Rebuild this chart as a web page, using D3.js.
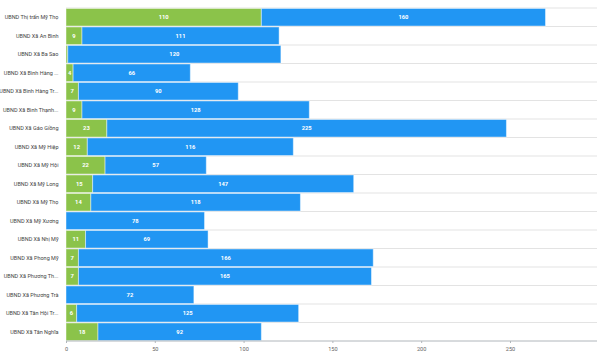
<!DOCTYPE html>
<html><head><meta charset="utf-8">
<script src="https://cdn.jsdelivr.net/npm/d3@7"></script>
<style>html,body{margin:0;padding:0;background:#fff;}svg{display:block;font-family:Roboto,"Noto Sans",sans-serif;}</style>
</head><body><svg id="c" width="600" height="356"></svg>
<script>
const categories = ["UBND Thị trấn Mỹ Thọ","UBND Xã An Bình","UBND Xã Ba Sao","UBND Xã Bình Hàng ...","UBND Xã Bình Hàng Tr...","UBND Xã Bình Thạnh...","UBND Xã Gáo Giồng","UBND Xã Mỹ Hiệp","UBND Xã Mỹ Hội","UBND Xã Mỹ Long","UBND Xã Mỹ Thọ","UBND Xã Mỹ Xương","UBND Xã Nhị Mỹ","UBND Xã Phong Mỹ","UBND Xã Phương Th...","UBND Xã Phương Trà","UBND Xã Tân Hội Tr...","UBND Xã Tân Nghĩa"];
const greenValues = [110,9,1,4,7,9,23,12,22,15,14,0,11,7,7,0,6,18];
const blueValues = [160,111,120,66,90,128,225,116,57,147,118,78,69,166,165,72,125,92];
const xTicks = [0,50,100,150,200,250];
const xMax = 299;
const colors = ["#8BC34A","#2196F3"];

(function(){
const svg = d3.select("#c");
const mLeft = 66, mRight = 597, mTop = 8, mBottom = 341;
const x = d3.scaleLinear().domain([0, xMax]).range([mLeft, mRight]);
const y = d3.scaleBand().domain(categories).range([mTop, mBottom]).paddingInner(0.05).paddingOuter(0.025);
const step = y.step();

const gridYs = d3.range(categories.length).map(i => mTop + i * step);
svg.append("g").selectAll("line").data(gridYs).join("line")
  .attr("x1", mLeft).attr("x2", mRight).attr("y1", d => d).attr("y2", d => d)
  .attr("stroke", "#e3e3e3").attr("stroke-width", 1);

const rows = categories.map((c, i) => ({cat: c, segs: [
  {x0: 0, x1: greenValues[i], v: greenValues[i], color: colors[0]},
  {x0: greenValues[i], x1: greenValues[i] + blueValues[i], v: blueValues[i], color: colors[1]}
]}));

const g = svg.append("g");
rows.forEach(r => {
  r.segs.forEach(s => {
    if (s.v <= 0) return;
    g.append("rect")
      .attr("x", x(s.x0)).attr("y", y(r.cat))
      .attr("width", x(s.x1) - x(s.x0)).attr("height", y.bandwidth())
      .attr("fill", s.color).attr("stroke", "#fff").attr("stroke-opacity", 0.45).attr("stroke-width", 1);
    if (x(s.x1) - x(s.x0) > 5) {
      g.append("text")
        .attr("x", (x(s.x0) + x(s.x1)) / 2).attr("y", y(r.cat) + y.bandwidth() / 2)
        .attr("dy", "0.35em").attr("text-anchor", "middle")
        .attr("fill", "#fff").attr("font-size", 5.8).attr("font-weight", "bold")
        .text(s.v);
    }
  });
});

svg.append("g").selectAll("text").data(categories).join("text")
  .attr("x", 58.5).attr("y", d => y(d) + y.bandwidth() / 2).attr("dy", "0.35em")
  .attr("text-anchor", "end").attr("fill", "#444").attr("font-size", 5.5)
  .text(d => d);

const ax = svg.append("g").attr("transform", `translate(0,${mBottom})`)
  .call(d3.axisBottom(x).tickValues(xTicks).tickSize(2).tickPadding(4));
ax.select(".domain").attr("stroke", "#b0b6bb").attr("d", `M${mLeft},0H${mRight}`);
ax.selectAll(".tick line").attr("stroke", "#b0b6bb");
ax.selectAll(".tick text").attr("fill", "#666").attr("font-size", 5.6).attr("font-family", "Roboto,sans-serif");
})();
</script></body></html>
